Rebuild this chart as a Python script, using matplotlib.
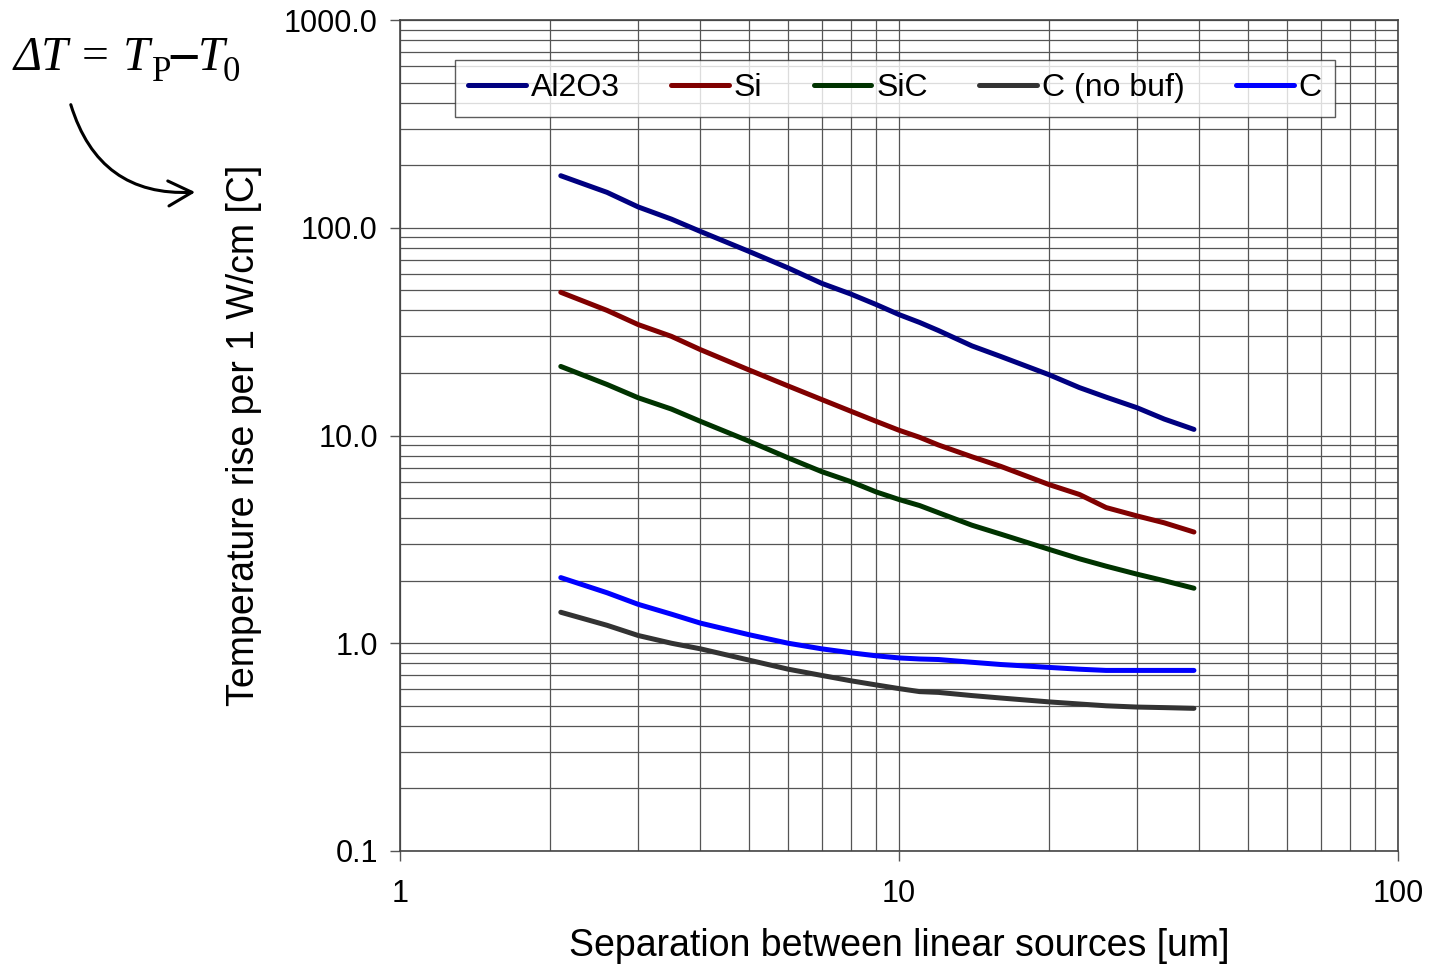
import matplotlib
matplotlib.use('Agg')
import matplotlib.pyplot as plt
from matplotlib.patches import FancyArrowPatch
from matplotlib.ticker import FixedLocator, FuncFormatter, NullFormatter

plt.rcParams['font.family'] = ['Liberation Sans', 'DejaVu Sans']

# separation between linear sources [um]
sep = [2.1, 2.6, 3, 3.5, 4, 5, 6, 7, 8, 9, 10, 11, 12, 14, 16, 20, 23, 26, 30, 34, 39]

al2o3 = [178, 148, 126, 110, 96, 77, 64, 54, 48, 42.7, 38.2, 35, 32, 27, 24, 19.6, 17, 15.3, 13.6, 12, 10.7]
si = [48.9, 40, 34.2, 30, 25.9, 20.7, 17.3, 14.9, 13.1, 11.7, 10.6, 9.8, 9.0, 7.9, 7.1, 5.8, 5.2, 4.5, 4.1, 3.8, 3.43]
sic = [21.5, 17.6, 15.2, 13.4, 11.7, 9.4, 7.8, 6.7, 6.0, 5.35, 4.92, 4.6, 4.25, 3.7, 3.35, 2.83, 2.55, 2.35, 2.15, 2.0, 1.84]
c_nobuf = [1.41, 1.22, 1.09, 1.0, 0.94, 0.83, 0.75, 0.70, 0.66, 0.63, 0.605, 0.585, 0.58, 0.56, 0.545, 0.522, 0.51, 0.50, 0.493, 0.49, 0.486]
c_buf = [2.07, 1.75, 1.54, 1.38, 1.25, 1.1, 1.0, 0.94, 0.9, 0.87, 0.85, 0.84, 0.835, 0.81, 0.79, 0.765, 0.75, 0.74, 0.74, 0.74, 0.74]

series = [
    ("Al2O3", al2o3, "#000080"),
    ("Si", si, "#800000"),
    ("SiC", sic, "#003300"),
    ("C (no buf)", c_nobuf, "#333333"),
    ("C", c_buf, "#0000ff"),
]

x_ticks = [1, 10, 100]
y_ticks = [0.1, 1, 10, 100, 1000]

W, H = 1430, 976
fig = plt.figure(figsize=(W/100, H/100), dpi=100)
ax = fig.add_axes([400/W, 1-851/H, 998/W, 831/H])

for name, vals, col in series:
    ax.plot(sep, vals, color=col, lw=3.6, solid_capstyle='round', label=name)

ax.set_xscale('log')
ax.set_yscale('log')
ax.set_xlim(1, 100)
ax.set_ylim(0.1, 1000)

ax.xaxis.set_major_locator(FixedLocator(x_ticks))
ax.xaxis.set_major_formatter(FuncFormatter(lambda v, p: '%d' % v))
ax.yaxis.set_major_locator(FixedLocator(y_ticks))
ax.yaxis.set_major_formatter(FuncFormatter(lambda v, p: '%.1f' % v))
minors_x = [m*10**d for d in (0, 1) for m in range(2, 10)]
minors_y = [m*10.0**d for d in (-1, 0, 1, 2) for m in range(2, 10)]
ax.xaxis.set_minor_locator(FixedLocator(minors_x))
ax.yaxis.set_minor_locator(FixedLocator(minors_y))
ax.xaxis.set_minor_formatter(NullFormatter())
ax.yaxis.set_minor_formatter(NullFormatter())

ax.grid(True, which='both', color='#555555', lw=0.9)
ax.set_axisbelow(True)
ax.tick_params(which='major', direction='out', length=7, width=1, color='#555555',
               labelsize=22, pad=9)
ax.tick_params(axis='x', which='major', pad=13)
ax.tick_params(which='minor', length=0)
for s in ax.spines.values():
    s.set_color('#444444')
    s.set_linewidth(1.2)

ax.set_xlabel('Separation between linear sources [um]', fontsize=27, labelpad=14)
ax.set_ylabel('Temperature rise per 1 W/cm [C]', fontsize=27, labelpad=16)

leg = ax.legend(loc='lower left', bbox_to_anchor=(55/998, (851-116.7)/831, 880/998, 0.07),
                mode='expand', ncol=5, fontsize=23, frameon=True, fancybox=False,
                borderaxespad=0, handlelength=1.8, handletextpad=0.15,
                borderpad=0.42)
leg.get_frame().set_edgecolor('#333333')
leg.get_frame().set_linewidth(1.0)

# annotation in top-left corner: dT = T_P - T_0, pieces chained left to right
renderer = fig.canvas.get_renderer()
serif = 'Liberation Serif'
pieces = [
    ('ΔT = T', 34.5, 'italic', 'normal', 0, 0),
    ('P', 25, 'normal', 'normal', 11, 1),
    ('–', 38, 'normal', 'bold', 0, -1),
    ('T', 34.5, 'italic', 'normal', 0, 1),
    ('0', 25, 'normal', 'normal', 11, -1),
]
xpos, base = 14, 70
for s, size, style, weight, dy, dx in pieces:
    t = fig.text((xpos + dx)/W, 1-(base + dy)/H, s, family=serif, fontsize=size,
                 style=style, weight=weight, ha='left', va='baseline')
    bb = t.get_window_extent(renderer)
    xpos = bb.x1

fig.add_artist(FancyArrowPatch(
    (70/W, 1-102/H), (198/W, 1-192/H), transform=fig.transFigure,
    connectionstyle='arc3,rad=0.4', arrowstyle='->,head_length=17,head_width=9',
    lw=2.2, color='black'))

fig.savefig('out.png', dpi=100)
